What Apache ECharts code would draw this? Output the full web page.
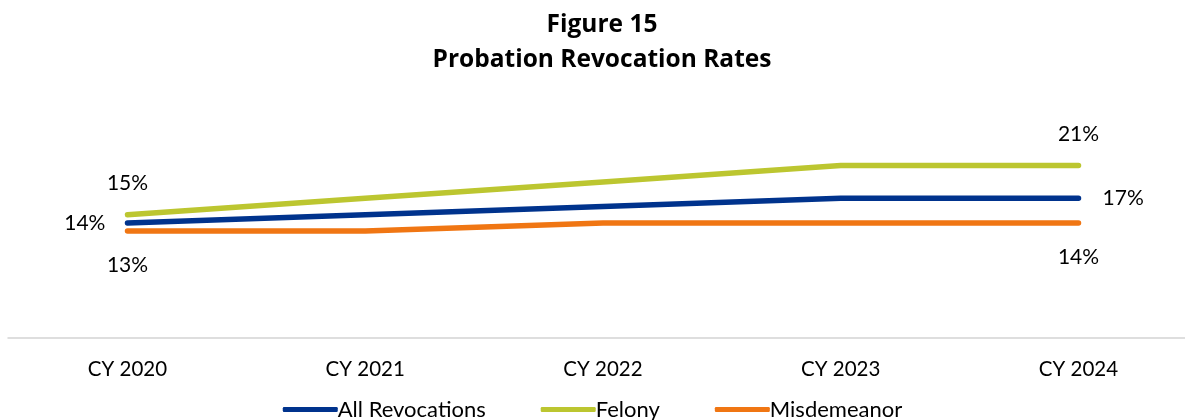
<!DOCTYPE html>
<html>
<head>
<meta charset="utf-8">
<script src="https://cdn.jsdelivr.net/npm/echarts@6/dist/echarts.min.js"></script>
<style>
html,body{margin:0;padding:0;background:#fff;}
#chart{width:1185px;height:420px;}
</style>
</head>
<body>
<div id="chart"></div>
<script>
var categories = ['CY 2020', 'CY 2021', 'CY 2022', 'CY 2023', 'CY 2024'];
var allRevocations = [14, 15, 16, 17, 17];
var felony = [15, 17, 19, 21, 21];
var misdemeanor = [13, 13, 14, 14, 14];
var seriesNames = ['All Revocations', 'Felony', 'Misdemeanor'];

var FONT = 'Lato';

function withEndLabels(values, firstPos, lastPos, firstDist, lastDist) {
  return values.map(function (v, i) {
    var isEnd = (i === 0 || i === values.length - 1);
    return {
      value: v,
      label: {
        show: isEnd,
        position: i === 0 ? firstPos : lastPos,
        distance: i === 0 ? firstDist : lastDist,
        formatter: '{c}%',
        color: '#000',
        fontFamily: FONT,
        fontSize: 21
      }
    };
  });
}

function lineSeries(name, values, color, p1, p2, d1, d2, z) {
  return {
    name: name,
    type: 'line',
    xAxisIndex: 0,
    yAxisIndex: 0,
    data: withEndLabels(values, p1, p2, d1, d2),
    symbol: 'circle',
    symbolSize: 0.1,
    showSymbol: true,
    itemStyle: {color: 'rgba(0,0,0,0)', borderWidth: 0},
    color: color,
    lineStyle: {width: 5.5, color: color, cap: 'round', join: 'round'},
    emphasis: {disabled: true},
    z: z
  };
}

var chart = echarts.init(document.getElementById('chart'), null, {renderer: 'canvas'});
chart.setOption({
  animation: false,
  backgroundColor: '#fff',
  title: {
    text: 'Figure 15\nProbation Revocation Rates',
    left: 597,
    textAlign: 'center',
    top: 3,
    textStyle: {
      fontFamily: 'Open Sans',
      fontWeight: 'bold',
      fontSize: 24.5,
      lineHeight: 35,
      color: '#000'
    }
  },
  legend: {
    data: [
      {name: seriesNames[0], itemStyle: {color: '#00338D'}},
      {name: seriesNames[1], itemStyle: {color: '#BCC630'}},
      {name: seriesNames[2], itemStyle: {color: '#F07613'}}
    ],
    top: 393.5,
    left: 'center',
    icon: 'roundRect',
    itemWidth: 55,
    itemHeight: 5,
    itemGap: 55,
    textStyle: {fontFamily: FONT, fontSize: 22, color: '#000', padding: [0, 0, 0, -5]}
  },
  grid: [
    {left: 127.5, right: 106.5, top: 132.7, bottom: 82.3, containLabel: false},
    {left: 8, right: 0, top: 132.7, bottom: 82.3, containLabel: false}
  ],
  xAxis: [
    {
      type: 'category',
      gridIndex: 0,
      data: categories,
      boundaryGap: false,
      axisLine: {show: false},
      axisTick: {show: false},
      splitLine: {show: false},
      axisLabel: {fontFamily: FONT, fontSize: 20.5, color: '#000', margin: 21}
    },
    {
      type: 'value',
      gridIndex: 1,
      min: 0,
      max: 1,
      axisLine: {show: true, lineStyle: {color: '#d4d4d4', width: 1.5}},
      axisTick: {show: false},
      axisLabel: {show: false},
      splitLine: {show: false}
    }
  ],
  yAxis: [
    {type: 'value', gridIndex: 0, min: 0, max: 25, show: false, splitLine: {show: false}},
    {type: 'value', gridIndex: 1, min: 0, max: 25, show: false, splitLine: {show: false}}
  ],
  series: [
    lineSeries(seriesNames[0], allRevocations, '#00338D', 'left', 'right', 22, 24, 3),
    lineSeries(seriesNames[1], felony, '#BCC630', 'top', 'top', 21, 21, 2),
    lineSeries(seriesNames[2], misdemeanor, '#F07613', 'bottom', 'bottom', 24, 24, 2)
  ]
});
</script>
</body>
</html>
